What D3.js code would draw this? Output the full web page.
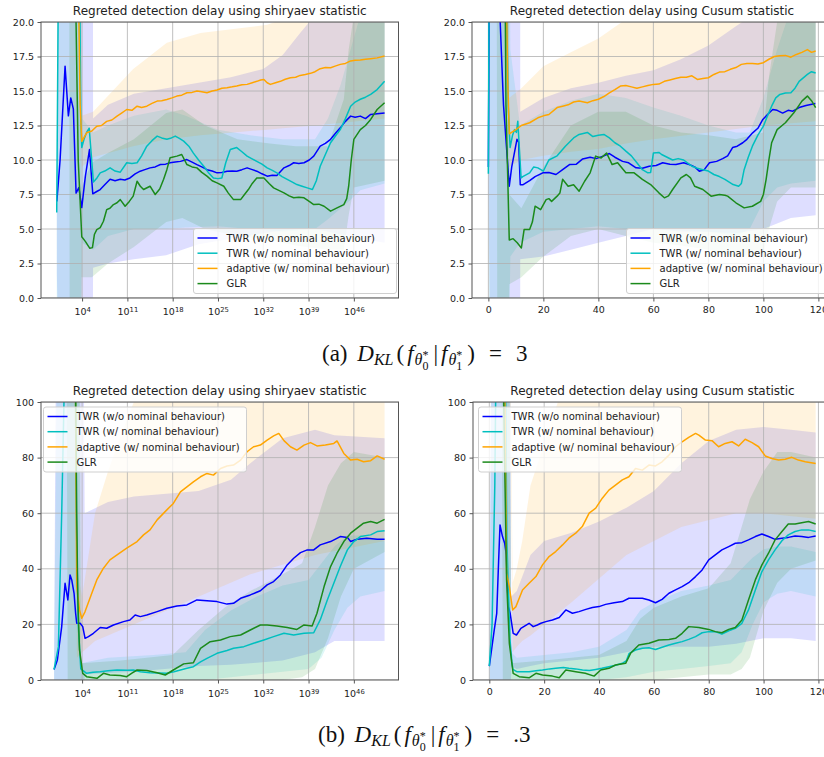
<!DOCTYPE html>
<html>
<head>
<meta charset="utf-8">
<script src="https://cdn.jsdelivr.net/npm/d3@7"></script>
<style>
  body { margin: 0; background: #fff; }
  text { font-family: "DejaVu Sans", sans-serif; }
</style>
</head>
<body>
<script>
// series labels + colours
var seriesNames = ["TWR (w/o nominal behaviour)", "TWR (w/ nominal behaviour)", "adaptive (w/ nominal behaviour)", "GLR"];
var seriesColors = ["#0000ff", "#00bfbf", "#ffa500", "#1b8a1b"];

// tick values
var logTickExp = [4, 11, 18, 25, 32, 39, 46];
var linTicks = [0, 20, 40, 60, 80, 100, 120];
var yTicksA = [0, 2.5, 5, 7.5, 10, 12.5, 15, 17.5, 20];
var yTicksB = [0, 20, 40, 60, 80, 100];

// ---- (a) shiryaev, x = log10(threshold), [x, mean]
var tlBlue = [[0.1,7.0],[0.6,10],[1.37,16.8],[1.88,13.2],[2.25,14.5],[2.65,13.7],[3.07,7.6],[3.5,8.0],[3.95,6.55],[4.5,8.8],[5.14,10.76],[5.65,7.55],[6.2,7.7],[6.8,7.86],[7.5,8.2],[8.33,8.6],[9.1,8.5],[9.9,8.6],[10.6,8.55],[11.4,8.7],[12.2,9.0],[12.98,9.19],[13.7,9.3],[14.5,9.43],[15.3,9.5],[16.1,9.67],[16.9,9.7],[17.6,9.8],[18.4,9.85],[19.2,9.9],[20.2,10.03],[21,9.85],[21.75,9.67],[22.5,9.5],[23.3,9.3],[24.1,9.2],[24.85,9.07],[25.6,9.1],[26.4,9.19],[27.2,9.2],[27.9,9.19],[28.7,9.3],[29.5,9.43],[30.3,9.3],[31,9.19],[31.8,9.0],[32.6,8.83],[33.4,8.9],[34.1,8.87],[35.2,9.43],[36,9.6],[36.7,9.8],[37.5,9.75],[38.3,9.8],[39.1,10.0],[39.8,10.28],[40.8,11.0],[41.6,11.2],[42.4,11.5],[43.1,11.9],[43.9,12.33],[44.7,12.8],[45.5,13.18],[46.2,13.1],[47.0,13.18],[47.8,13.0],[48.6,13.3],[49.6,13.35],[50.75,13.4]];
var tlCyan = [[0.08,6.2],[0.44,30],[3.5,30],[3.8,13],[3.95,10.9],[4.3,11.5],[4.7,12.0],[5.1,12.3],[5.75,8.4],[6.3,8.7],[6.8,9.07],[7.5,9.2],[8.33,9.43],[9.1,9.2],[9.9,9.12],[10.9,9.8],[11.7,9.75],[12.5,9.8],[13.2,10.3],[14.0,11.0],[14.8,11.4],[15.6,11.73],[16.3,11.6],[17.1,11.5],[17.8,11.6],[18.4,11.73],[19.1,11.55],[19.7,11.37],[20.5,11.0],[21.2,10.5],[22,10.0],[22.8,9.55],[23.5,9.1],[24.3,8.7],[25,8.65],[25.6,8.7],[26.2,9.8],[26.9,10.76],[27.9,10.9],[28.7,10.6],[29.5,10.28],[30.2,10.1],[31,9.9],[31.8,9.7],[32.6,9.43],[33.4,9.25],[34.1,9.07],[34.9,8.8],[35.7,8.6],[36.5,8.4],[37.2,8.22],[38,8.1],[38.8,7.98],[39.6,7.86],[40.2,8.5],[40.8,9.55],[41.6,10.4],[42.4,11.25],[43.1,11.7],[43.9,12.2],[44.7,13.0],[45.5,13.9],[46.2,14.2],[47.0,14.4],[47.8,14.55],[48.6,14.75],[49.6,15.1],[50.75,15.7]];
var tlOrange = [[0,40],[3.2,30],[3.7,14],[3.95,11.35],[4.7,11.97],[5.5,12.1],[6.27,12.45],[7,12.5],[7.8,12.8],[8.6,12.9],[9.4,13.18],[10.1,13.4],[10.9,13.66],[11.7,13.6],[12.5,13.9],[13.2,13.8],[14.0,13.9],[14.8,14.1],[15.6,14.27],[16.3,14.3],[17.1,14.39],[17.9,14.5],[18.65,14.63],[19.4,14.7],[20.2,14.87],[21,14.9],[21.75,15.0],[22.5,14.95],[23.3,14.87],[24.1,15.0],[24.85,15.07],[25.6,15.2],[26.4,15.24],[27.2,15.3],[27.9,15.36],[28.7,15.45],[29.5,15.48],[30.3,15.6],[31,15.7],[31.6,15.8],[32.1,15.84],[32.6,15.6],[33.1,15.48],[33.9,15.6],[34.65,15.7],[35.4,15.85],[36.2,15.96],[37,16.0],[37.7,16.13],[38.5,16.2],[39.3,16.28],[40,16.4],[40.8,16.62],[41.6,16.7],[42.4,16.69],[43.1,16.8],[43.9,16.93],[44.7,17.0],[45.5,17.18],[46.2,17.22],[47.0,17.24],[47.8,17.3],[48.6,17.34],[49.6,17.4],[50.75,17.53]];
var tlGreen = [[0,40],[2.9,25],[3.4,10],[3.95,4.44],[4.5,4.1],[5.2,3.6],[5.6,3.65],[5.9,4.6],[6.27,4.96],[6.8,5.1],[7.3,5.56],[7.8,6.4],[8.3,6.5],[8.85,6.77],[9.4,6.9],[9.9,7.13],[10.65,6.65],[11.3,7.0],[11.9,7.38],[12.5,8.46],[13.0,8.1],[13.5,7.86],[14.5,8.1],[15.3,7.5],[16.0,7.9],[16.6,8.6],[17.1,9.3],[17.6,10.16],[18.65,10.28],[19.4,10.4],[20.2,9.67],[21,9.5],[21.75,9.43],[22.5,9.1],[23.3,8.83],[24.1,8.5],[24.85,8.34],[25.9,8.1],[26.6,7.6],[27.4,7.13],[28.5,7.13],[29.1,7.5],[29.7,7.86],[30.3,8.3],[31,8.7],[32.1,8.7],[32.9,8.3],[33.6,7.98],[34.4,7.8],[35.2,7.62],[36,7.4],[36.7,7.26],[37.5,7.3],[38.3,7.26],[39.1,7.0],[39.8,6.77],[40.6,6.8],[41.4,6.65],[42.4,6.29],[43.4,6.53],[44.45,6.77],[44.9,7.2],[45.2,8.1],[45.6,10],[46,11.5],[47,12.2],[47.8,12.5],[48.6,12.94],[49.6,13.66],[50.75,14.15]];
// bands [x, lower, upper]
var tlBlueBand = [[0.1,1.7,11],[0.6,-10,60],[5.6,-10,60],[5.7,2.2,13.0],[8,2.5,14.0],[12,2.8,14.8],[17,3.1,15.2],[22,3.9,15.6],[27,4.3,16.0],[32,4.7,16.6],[35,4.9,17.6],[37.7,5.0,19.2],[40,5.0,20.5],[45,4.5,22],[50.75,4.0,22]];
var tlCyanBand = [[0.08,0,8],[0.5,-10,60],[3.7,-10,60],[4,4,13],[5.7,3.5,12.0],[8,4.5,12.5],[12,5.0,13.2],[17,5.0,13.66],[20,5.1,13.2],[25,5.2,12.2],[30,5.0,11.8],[35,4.8,11.5],[40,5.0,11.5],[42,5.7,13],[44,6.5,15.5],[45.5,7.1,18],[47,7.8,20.5],[50.75,8.3,22]];
var tlOrangeBand = [[0,30,50],[3.2,30,50],[3.95,9.5,13.2],[5.7,10.2,13.5],[11.9,11,16.6],[17.1,11.5,18.5],[22.3,11.8,19.2],[27.4,12.0,19.5],[32.6,12.2,19.8],[35,12.3,20.2],[40,12.5,21],[50.75,13,22]];
var tlGreenBand = [[0,30,50],[2.0,30,50],[2.1,-10,60],[3.7,-10,60],[3.9,1.5,8],[5.5,1.5,9.8],[8,2.5,10.5],[12,3.7,11.5],[17,5.5,13.4],[19.5,5.8,13.66],[23,5.0,12.5],[28,4.5,11.5],[33,4.2,11.2],[37,3.8,11.0],[42,3.5,11.0],[44.45,3.5,14.4],[45.2,6,18],[46,8,20.5],[50.75,8.5,22]];

// ---- (a) cusum, x = time
var trBlue = [[0,9.5],[0.5,30],[3.5,24],[5.5,14],[7.6,8.1],[8.5,9.5],[10.4,11.5],[11,11.3],[11.6,8.2],[12.5,8.2],[15,8.5],[17,8.8],[19.8,9.07],[22,9.1],[24.6,8.95],[27,9.3],[29.5,9.67],[32,9.7],[34.3,10.08],[37,10.2],[39.2,10.1],[42,10.3],[44,10.47],[46,10.2],[48.8,9.9],[51,9.8],[53.7,9.43],[56,9.4],[58.5,9.55],[61,9.6],[63.4,9.8],[66,9.7],[68.2,9.67],[71,9.8],[73,9.67],[75,9.5],[76.7,9.19],[78.5,9.3],[80.4,9.8],[83,9.9],[85.2,10.1],[87,10.3],[88.8,10.9],[90.5,11.0],[92.5,11.25],[94,11.5],[96.1,11.97],[98,12.3],[99.8,12.94],[101.5,13.3],[103.4,13.66],[105,13.6],[107,13.4],[109,13.6],[110.7,13.54],[113,13.8],[115.5,13.95],[118.9,14.1]];
var trCyan = [[0,9.0],[0.4,30],[6,30],[7.2,14],[7.9,10.9],[8.8,11.8],[9.5,12.2],[10.2,12.0],[10.7,12.8],[11.9,8.7],[12.5,8.8],[15,9.07],[16.5,9.5],[18,9.43],[20,9.2],[22,10.0],[25,10.3],[28,11.0],[31,11.6],[33,11.85],[36,12.0],[38,11.7],[40,11.8],[42,11.85],[44,11.6],[46,11.25],[48,11.0],[50,10.64],[52,10.3],[54,9.8],[56,9.3],[58,9.07],[59,9.1],[60,10.5],[62,10.55],[63,10.4],[65,10.2],[67,10.0],[69,10.1],[71,10.0],[74,9.55],[76,9.4],[78,9.3],[80,9.2],[82,8.95],[84,8.8],[86,8.6],[89,8.22],[91,8.1],[92,8.3],[93,9.3],[94.5,10.2],[96,11.0],[98,11.8],[100,12.45],[101.5,13.2],[103,13.9],[104.5,14.5],[106,14.75],[108,14.85],[110,14.87],[111.5,15.2],[113,15.7],[116,16.2],[117.5,16.4],[119,16.3]];
var trOrange = [[0,40],[6,30],[7,16],[7.6,11.9],[10,12.2],[12,12.5],[15,12.7],[18,13.06],[20,13.2],[22,13.3],[25,13.8],[27,13.9],[29,14.0],[31,14.2],[33,14.27],[36,14.15],[38,14.3],[40,14.4],[42,14.6],[44,14.87],[46,15.1],[48,15.36],[50,15.4],[52,15.3],[54,15.2],[56,15.3],[58,15.4],[60,15.48],[62,15.5],[64,15.7],[66,15.8],[68,15.9],[70,16.0],[72,16.0],[74,16.1],[76,15.84],[78,15.9],[80,15.96],[82,16.2],[84,16.37],[86,16.4],[88,16.57],[90,16.7],[92,16.93],[94,17.0],[96,17.0],[98,16.95],[100,17.05],[102,17.3],[104,17.5],[106,17.55],[108,17.58],[110,17.45],[112,17.65],[114,17.8],[116,18.0],[117.5,17.8],[119,17.9]];
var trGreen = [[0,40],[6,25],[6.4,14],[7.6,4.2],[9,4.3],[10.5,4.0],[12,3.63],[13,4.96],[15,4.96],[16,5.5],[17,6.65],[19,6.4],[21,7.13],[22,7.2],[23,7.0],[25,7.38],[26,7.6],[27,8.6],[29,8.1],[31,8.2],[33,7.74],[35,8.46],[37,9.07],[39,10.28],[41,10.15],[43,10.5],[45,9.67],[47,9.8],[50,9.07],[53,9.07],[56,8.6],[59,8.22],[62,7.62],[64,7.26],[65.5,7.4],[67,7.86],[70,8.7],[72,8.95],[73.5,8.7],[75,8.1],[78,7.86],[81,7.38],[84,7.5],[86,7.45],[87,7.38],[90,6.9],[93,6.53],[96,6.65],[99,7.0],[100,7.5],[101,8.6],[102,10],[103,11.25],[105,12.2],[108,12.7],[111,13.4],[114,14.27],[116,14.63],[117.5,14.3],[119,13.8]];
var trBlueBand = [[0,8,11],[1,-10,60],[11.5,-10,60],[11.6,2.8,13.5],[20,3.0,14.5],[30,3.5,15.2],[40,4.0,15.6],[50,4.5,16.1],[60,5.0,16.5],[70,4.8,17.3],[80,4.8,18.3],[90,4.7,19.7],[100,5.0,21],[110,5.8,22],[119,6.0,22]];
var trCyanBand = [[0,6,12],[0.5,-10,60],[7,-10,60],[8,3,18],[11.5,4.0,12.5],[20,4.8,13.5],[30,5.0,14.3],[40,5.2,14.8],[50,5.0,14.5],[60,5.0,13.8],[70,4.9,13.2],[80,4.8,12.5],[90,4.5,12.0],[95,5.0,12.0],[100,7.0,14.5],[105,8.0,18],[110,8.3,21],[119,8.5,22]];
var trOrangeBand = [[0,30,50],[6,30,50],[7.5,9.5,14.5],[12,10,15.2],[20,10.3,16.8],[30,10.6,17.8],[40,10.8,18.8],[50,11.2,20.2],[60,11.5,21.5],[80,12.0,23],[100,12.5,24],[119,12.8,25]];
var trGreenBand = [[0,30,50],[3,30,50],[3.3,-10,60],[7.3,-10,60],[7.6,1.0,7.5],[12,1.5,6.5],[20,3.0,9.5],[30,4.5,12.5],[40,5.0,13.5],[50,4.5,13.5],[60,4.0,12.5],[70,3.8,12.0],[80,3.5,11.8],[90,3.0,11.5],[100,3.2,12.0],[102,5,16],[105,7.0,20],[110,8.0,22],[119,8.0,22]];

// ---- (b) shiryaev
var blBlue = [[-0.33,3.8],[0.18,7.2],[0.85,19.2],[1.37,34.8],[1.8,28.8],[2.14,37.8],[2.4,36],[2.76,31.2],[3.0,24],[3.17,20.4],[3.7,20.4],[4.1,19.2],[4.46,15],[4.98,15.6],[5.75,16.8],[6.8,18.9],[7.8,18.6],[8.85,19.8],[10.4,21],[11.4,21.6],[12.2,23.4],[13,22.8],[14,23.4],[15.6,24.6],[17.1,25.8],[18.65,26.6],[20.2,27],[21.75,28.8],[23.3,28.5],[24.85,28.2],[26.4,27.3],[27.4,27.6],[28.5,29.4],[30,30.6],[31.55,32.1],[32.6,34.2],[33.6,35.4],[34.65,37.8],[35.7,41.4],[36.7,43.8],[37.75,45.8],[38.8,46.8],[39.8,46.8],[40.8,48.6],[42.4,49.8],[43.9,51.6],[45,51.3],[45.5,49.8],[46.5,50.6],[48,51],[49.6,50.6],[50.75,50.6]];
var blCyan = [[-0.33,3.8],[0.34,12],[0.85,60],[1.2,100],[1.4,130],[2.9,130],[3.1,60],[3.4,20],[3.8,4],[4.7,2.4],[5.7,2.8],[6.8,3],[8,3.3],[9.4,3.6],[11,3.5],[11.9,3.6],[13,3.0],[14.5,2.6],[16,2.5],[17.1,2.4],[18.2,3],[19.2,3.6],[20.2,4.2],[21.2,4.8],[22.3,6.5],[23.3,7.8],[24.85,9.6],[26.4,10.6],[27.4,11.4],[29,12],[30.5,13.2],[32.1,14.4],[33.6,15.6],[35.2,16.8],[36.7,16.2],[38.3,16.8],[39.8,17],[40.8,21.6],[41.9,28.8],[42.9,34.8],[43.9,40.8],[45,46.8],[46,49.8],[47,51.6],[48.6,52.2],[49.6,53.4],[50.75,53.7]];
var blOrange = [[-0.33,130],[2.9,130],[3.17,33.6],[3.6,25.2],[3.95,22.2],[4.46,24.6],[5.5,31.2],[6.27,36],[7.3,40.2],[8.3,43.2],[9.4,45],[10.9,47.4],[12.5,49.8],[13.5,52.2],[14.5,54],[15.6,57.6],[17.1,61.2],[18.1,63.5],[19.2,67.7],[20.2,69.5],[21.2,71.3],[22.3,73.1],[23.3,74.3],[24.3,73.7],[25.4,76.1],[26.4,77],[27.4,77.3],[28.5,79.1],[29.5,82.1],[30.5,83.9],[31.55,84.5],[32.6,86.3],[33.6,87.8],[34.4,88.7],[35.2,86.1],[36.2,83.9],[37.2,82.7],[38.3,84.5],[39.3,85.4],[40.3,84.2],[41.6,84.5],[42.9,85.1],[43.4,86],[44.45,81.5],[45.5,79.1],[46.5,79.4],[47.5,78.5],[48.6,78.9],[49.6,80.6],[50.75,79.4]];
var blGreen = [[-0.33,130],[2.9,130],[3.17,60],[3.33,30],[3.6,10.8],[4.1,2.4],[4.7,1.2],[5.5,0.9],[6.3,0.6],[7.3,2.4],[8.3,1.8],[9.9,1.6],[10.9,1.2],[11.7,2.5],[12.5,3.6],[14,3.4],[15.6,2.6],[16.85,1.8],[18.1,3.6],[19.7,5.8],[21.2,6.2],[22.3,11.4],[23.8,13.8],[25.4,14.4],[26.9,15.6],[28.5,16.2],[30,18],[31.55,19.8],[32.6,19.8],[34.1,19.4],[35.7,18.9],[37.2,18.2],[38.3,19.8],[39.55,19.4],[40.3,24],[41.4,33.6],[42.4,40.8],[43.4,45.6],[44.45,49.8],[45.5,52.8],[46.5,54.6],[47.5,56.4],[48.6,57],[49.6,56.4],[50.75,57.8]];
var blBlueBand = [[-0.33,0,8],[0,-20,140],[4.2,-20,140],[4.4,2,60],[8,2.5,64],[12,3,66],[22,5,68],[27,5.5,72],[30,6,78],[35,7,87],[40,10,90],[43,14,88],[50.75,14,87]];
var blCyanBand = [[-0.33,0,8],[0.2,-20,140],[3.5,-20,140],[3.8,0,6],[8,0,8],[15,0,9],[20,0,10],[23,0,18],[27,1,25],[31,2,30],[35,3,34],[39,4,36],[41,8,42],[43,18,48],[45,26,52],[47,30,52],[50.75,32,50]];
var blOrangeBand = [[-0.33,130,140],[2.9,130,140],[3.2,8,40],[4,10,30],[5,12,45],[6,14,60],[8,16,75],[10,18,88],[12,20,100],[20,28,110],[30,38,115],[40,45,115],[50.75,50,115]];
var blGreenBand = [[-0.33,130,140],[1.6,130,140],[1.8,-20,140],[3.6,-20,140],[3.9,-3,6],[10,-3,7],[18,-3,9],[22,-2,18],[26,-1,26],[30,0,32],[35,0,38],[38,1,42],[40,4,55],[42,15,70],[44,30,78],[46,40,82],[50.75,46,80]];

// ---- (b) cusum
var brBlue = [[0,5.0],[1.8,18],[2.7,24],[3.4,43],[3.9,55.8],[4.8,51.6],[5.6,49.2],[6.2,45],[6.9,26.4],[7.6,24],[8.7,16.8],[9.9,16.2],[11.5,18.6],[13,19.5],[14.5,20.4],[16,19.2],[17.5,19.8],[18.8,20.4],[20.6,21],[23,21.6],[25.5,22.5],[27.9,25.2],[30.3,24],[32.7,24.6],[35.2,25.4],[37.6,26.1],[40,26.4],[42.4,27.2],[45.5,27.8],[48.5,28.2],[50.9,29.4],[53.3,29.4],[55.8,29.4],[58.2,28.8],[60.6,27.8],[63,29],[65.5,31.2],[67.9,32.4],[70.3,33.6],[72.7,35],[75.2,37.2],[77.6,39.6],[80,43.2],[82.4,45],[84.8,46.8],[87.3,48],[89.7,49.2],[92.1,49.4],[94.5,50.4],[97,51.6],[99.4,52.5],[101.8,51.6],[104.2,50.6],[106.7,51],[109,51.3],[111.5,51.8],[113.9,51.6],[116.4,51.3],[119,51.8]];
var brCyan = [[0,5],[1,20],[2,70],[2.5,120],[5.8,120],[6.4,50],[7.5,15],[8.2,6.6],[8.6,3.8],[10,3.0],[14.5,3.0],[17,3.3],[19.4,3.6],[22,4.0],[24.2,4.2],[27,4.5],[29,4.2],[31.5,4.0],[34,3.6],[36.5,3.4],[38.8,3.8],[41,4.2],[43.6,4.8],[46,5.3],[48.5,6],[50,7],[51,9.6],[53.3,10.8],[55.8,11.4],[58.2,11.6],[60.6,11.0],[63,11.8],[65.5,12.6],[67.9,13.2],[70.3,13.8],[72.7,14.6],[75.2,15.6],[77.6,17],[80,17.4],[82.4,17.4],[84.8,16.5],[87.3,17.7],[89.7,18.6],[92.1,20.4],[94.5,25.2],[97,32.4],[99.4,39],[101.8,43.2],[104.2,46.8],[106.7,50.1],[109,52.2],[111.5,53.4],[113.9,54],[116.4,54],[119,53.4]];
var brOrange = [[0,120],[5.5,120],[6.3,38.4],[7.3,33.6],[8.5,25.2],[9.7,26.4],[12.1,32.4],[14.5,34.8],[17,37.2],[19.4,41.4],[21.8,44.4],[24.2,46.2],[26.7,48.6],[29,51],[31.5,52.8],[33.9,55.2],[36.4,60],[38.8,61.8],[41.2,65.4],[43.6,68.3],[46,70.1],[48.5,72],[50.9,73.1],[53.3,76.1],[55.8,75.5],[58.2,77.3],[60.6,77],[63,78.5],[65.5,80.9],[67.9,83.9],[70.3,85.7],[72.7,87.3],[75.2,88.7],[76.4,88.1],[78.8,86.3],[81.2,86.1],[83.6,83.9],[86,85.1],[88.5,85.7],[90.9,84.2],[93.3,86.6],[95.8,85.4],[98.2,83.9],[100.6,80.6],[103,79.7],[105.5,79.1],[107.9,79.4],[110.3,80.1],[112.7,79.1],[115.2,78.5],[119,77.9]];
var brGreen = [[0,120],[5,120],[5.5,84],[6.3,36],[7.3,13.2],[8.7,2.4],[10.9,1.2],[14.5,0.8],[17,2.4],[19.4,1.8],[23,1.4],[25.5,0.8],[27.9,3.6],[31.5,3.0],[35,2.4],[38.2,1.4],[40.6,3.6],[43.6,4.2],[46,5.4],[49.7,6],[51.5,9.6],[54.5,12.6],[58.2,13.2],[61.8,14.4],[65.5,14.6],[67.9,15],[70.3,16.8],[72.7,19.2],[76.4,18.9],[80,18.2],[82.4,17.4],[84.8,17],[87.3,18.2],[89.7,18.9],[92.1,21.6],[94.5,28.8],[97,36],[99.4,41.4],[101.8,45.6],[104.2,50.4],[106.7,53.4],[109,56.1],[111.5,56.1],[113.9,56.6],[116.4,57],[119,56.1]];
var brBlueBand = [[0,0,10],[0.8,-20,140],[7.5,-20,140],[8,5,30],[10,4,32],[15,5,45],[20,6,50],[30,7,53],[40,8,57],[50,10,62],[60,12,68],[70,12,78],[80,12,86],[90,13,90],[100,15,91],[110,15,90],[119,14,89]];
var brCyanBand = [[0,0,10],[1,-20,140],[7,-20,140],[8,0,10],[10,0,8],[20,0,9],[30,0,10],[40,0,12],[50,1,18],[55,2,25],[60,3,28],[70,4,32],[80,5,34],[88,6,36],[92,10,40],[96,20,44],[100,28,47],[105,31,48],[110,32,48],[119,30,46]];
var brOrangeBand = [[0,120,140],[7.5,120,140],[8.5,10,35],[10,12,40],[12,14,50],[15,16,70],[20,20,85],[25,24,100],[30,28,110],[50,45,120],[70,55,120],[90,60,120],[100,60,120],[119,58,120]];
var brGreenBand = [[0,120,140],[4.5,120,140],[5,-20,140],[7.5,-20,140],[8,-5,6],[20,-5,7],[30,-4,8],[40,-3,9],[50,-2,14],[55,-1,22],[60,0,26],[70,1,30],[80,2,33],[88,2,42],[92,4,55],[95,8,65],[100,25,75],[105,35,82],[110,40,82],[119,43,80]];

var svg = d3.select("body").append("svg").attr("width", 824).attr("height", 757);

function drawPanel(p) {
  var x;
  if (p.log) {
    x = d3.scaleLog().domain([Math.pow(10, -2.35), Math.pow(10, 52.9)]).range([p.x0, p.x1]);
  } else {
    x = d3.scaleLinear().domain([-5.95, 124.95]).range([p.x0, p.x1]);
  }
  var y = d3.scaleLinear().domain([0, p.yMax]).range([p.y1, p.y0]);
  var xv = function (d) { return p.log ? x(Math.pow(10, d[0])) : x(d[0]); };
  var xTickVals = p.log ? logTickExp.map(function (e) { return Math.pow(10, e); }) : linTicks;

  svg.append("clipPath").attr("id", "clip-" + p.id)
    .append("rect").attr("x", p.x0).attr("y", p.y0)
    .attr("width", p.x1 - p.x0).attr("height", p.y1 - p.y0);
  var plot = svg.append("g").attr("clip-path", "url(#clip-" + p.id + ")");

  // std bands
  p.bands.forEach(function (b, i) {
    plot.append("path").datum(b)
      .attr("fill", seriesColors[i]).attr("fill-opacity", 0.13)
      .attr("d", d3.area().x(xv).y0(function (d) { return y(d[1]); }).y1(function (d) { return y(d[2]); }));
  });

  // grid
  plot.selectAll(".gx").data(xTickVals).enter().append("line")
    .attr("x1", function (d) { return x(d); }).attr("x2", function (d) { return x(d); })
    .attr("y1", p.y0).attr("y2", p.y1)
    .attr("stroke", "#b0b0b0").attr("stroke-width", 0.8);
  plot.selectAll(".gy").data(p.yTicks).enter().append("line")
    .attr("x1", p.x0).attr("x2", p.x1)
    .attr("y1", function (d) { return y(d); }).attr("y2", function (d) { return y(d); })
    .attr("stroke", "#b0b0b0").attr("stroke-width", 0.8);

  // mean lines
  p.lines.forEach(function (l, i) {
    plot.append("path").datum(l)
      .attr("fill", "none").attr("stroke", seriesColors[i]).attr("stroke-width", 1.5)
      .attr("stroke-linejoin", "round")
      .attr("d", d3.line().x(xv).y(function (d) { return y(d[1]); }));
  });

  // frame
  svg.append("rect").attr("x", p.x0).attr("y", p.y0)
    .attr("width", p.x1 - p.x0).attr("height", p.y1 - p.y0)
    .attr("fill", "none").attr("stroke", "#555").attr("stroke-width", 1);

  // axes
  var ax = svg.append("g").attr("transform", "translate(0," + p.y1 + ")")
    .call(d3.axisBottom(x).tickValues(xTickVals).tickSize(3.5)
      .tickPadding(p.log ? 7 : 4.5).tickFormat(p.log ? function () { return ""; } : d3.format("d")));
  var ay = svg.append("g").attr("transform", "translate(" + p.x0 + ",0)")
    .call(d3.axisLeft(y).tickValues(p.yTicks).tickSize(3.5).tickPadding(3.5)
      .tickFormat(p.yMax === 20 ? d3.format(".1f") : d3.format("d")));
  [ax, ay].forEach(function (a) {
    a.select(".domain").remove();
    a.selectAll(".tick line").attr("stroke", "#555");
    a.selectAll(".tick text").attr("fill", "#222").attr("font-size", 9.5)
      .attr("font-family", "DejaVu Sans");
  });
  if (p.log) {
    ax.selectAll(".tick text").each(function (d) {
      var t = d3.select(this);
      t.append("tspan").text("10");
      t.append("tspan").attr("font-size", 6.8).attr("dy", "-0.55em")
        .text(Math.round(Math.log10(d)));
    });
  }

  // title
  svg.append("text").attr("x", (p.x0 + p.x1) / 2).attr("y", p.y0 - 7.5)
    .attr("text-anchor", "middle").attr("font-size", 12).attr("fill", "#222")
    .text(p.title);

  // legend
  var lg = svg.append("g").attr("transform", "translate(" + p.legX + "," + p.legY + ")");
  lg.append("rect").attr("width", 203).attr("height", 65).attr("rx", 2.5)
    .attr("fill", "#fff").attr("fill-opacity", 0.8).attr("stroke", "#cfcfcf");
  seriesNames.forEach(function (n, i) {
    var cy = 9.5 + i * 15.2;
    lg.append("line").attr("x1", 4).attr("x2", 24).attr("y1", cy).attr("y2", cy)
      .attr("stroke", seriesColors[i]).attr("stroke-width", 1.5);
    lg.append("text").attr("x", 33).attr("y", cy + 3.6)
      .attr("font-size", 10).attr("fill", "#222").text(n);
  });
}

drawPanel({ id: "tl", x0: 41, x1: 398.5, y0: 22, y1: 298, log: true, yMax: 20, yTicks: yTicksA,
  title: "Regreted detection delay using shiryaev statistic",
  lines: [tlBlue, tlCyan, tlOrange, tlGreen], bands: [tlBlueBand, tlCyanBand, tlOrangeBand, tlGreenBand],
  legX: 193.5, legY: 228.5 });
drawPanel({ id: "tr", x0: 472, x1: 832, y0: 22, y1: 298, log: false, yMax: 20, yTicks: yTicksA,
  title: "Regreted detection delay using Cusum statistic",
  lines: [trBlue, trCyan, trOrange, trGreen], bands: [trBlueBand, trCyanBand, trOrangeBand, trGreenBand],
  legX: 626.5, legY: 228.5 });
drawPanel({ id: "bl", x0: 41, x1: 398.5, y0: 402, y1: 680, log: true, yMax: 100, yTicks: yTicksB,
  title: "Regreted detection delay using shiryaev statistic",
  lines: [blBlue, blCyan, blOrange, blGreen], bands: [blBlueBand, blCyanBand, blOrangeBand, blGreenBand],
  legX: 43.5, legY: 407 });
drawPanel({ id: "br", x0: 473, x1: 832, y0: 402, y1: 680, log: false, yMax: 100, yTicks: yTicksB,
  title: "Regreted detection delay using Cusum statistic",
  lines: [brBlue, brCyan, brOrange, brGreen], bands: [brBlueBand, brCyanBand, brOrangeBand, brGreenBand],
  legX: 478.5, legY: 407 });

// captions (serif, set as style so the sans rule above does not win)
function caption(x, yb, lbl, val) {
  var t = svg.append("text").attr("x", x).attr("y", yb)
    .style("font-family", "'Liberation Serif', 'DejaVu Serif', serif")
    .attr("font-size", 23).attr("fill", "#111");
  t.append("tspan").text(lbl + " ");
  t.append("tspan").attr("font-style", "italic").attr("dx", 4).text("D");
  t.append("tspan").attr("font-style", "italic").attr("font-size", 16).attr("dy", 3.5).text("KL");
  t.append("tspan").attr("dx", 3).attr("dy", -3.5).text("(");
  [["0", "|"], ["1", ")"]].forEach(function (s) {
    t.append("tspan").attr("font-style", "italic").attr("dx", 3).text("f");
    t.append("tspan").attr("font-style", "italic").attr("font-size", 16).attr("dx", 1).attr("dy", 4).text("θ");
    t.append("tspan").attr("font-size", 12).attr("dy", -6).text("*");
    t.append("tspan").attr("font-size", 12).attr("dx", -6).attr("dy", 11).text(s[0]);
    t.append("tspan").attr("dx", 5).attr("dy", -9).text(s[1]);
  });
  t.append("tspan").attr("dx", 14).text("=");
  t.append("tspan").attr("dx", 14).text(val);
}
caption(322, 361, "(a)", "3");
caption(318, 742, "(b)", ".3");
</script>
</body>
</html>
